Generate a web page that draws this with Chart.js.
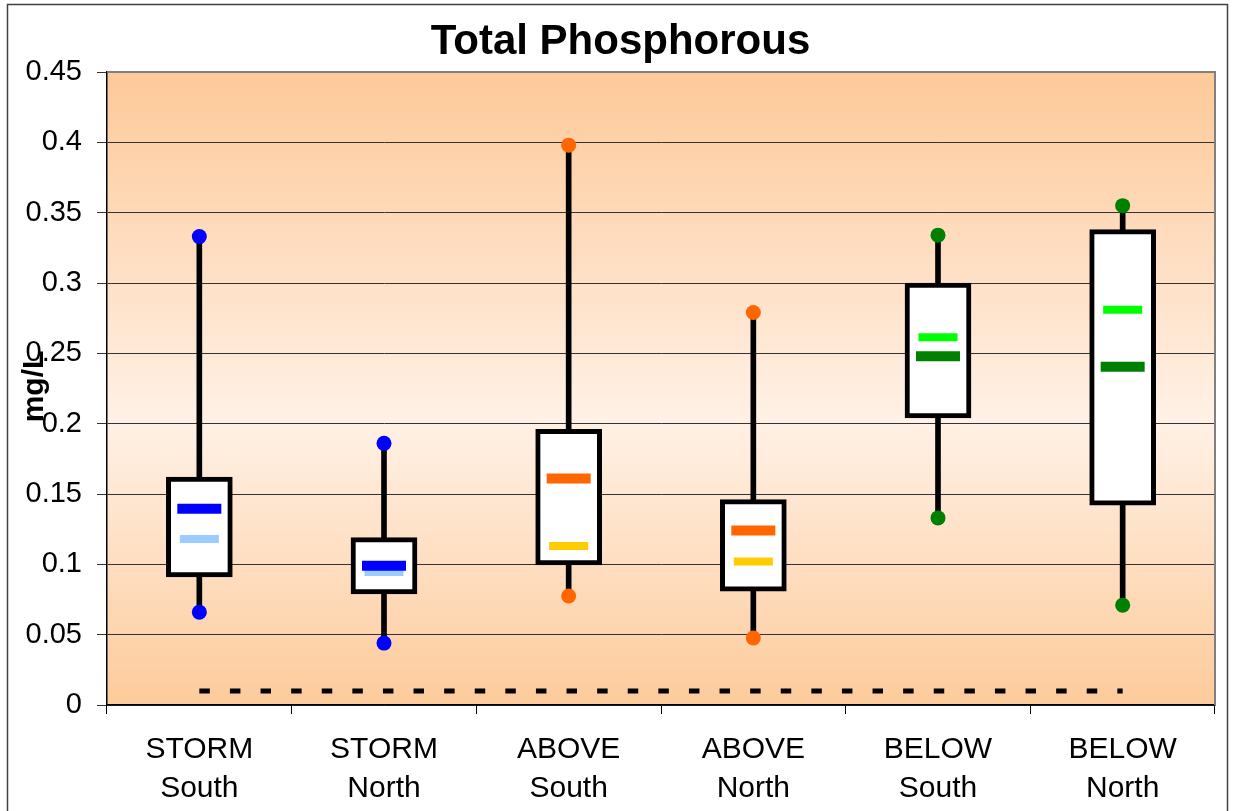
<!DOCTYPE html>
<html>
<head>
<meta charset="utf-8">
<script src="https://cdn.jsdelivr.net/npm/chart.js@4/dist/chart.umd.min.js"></script>
<style>
  html, body { margin: 0; padding: 0; background: #fff; }
  #chart { display: block; }
</style>
</head>
<body>
<canvas id="chart" width="1235" height="811"></canvas>
<script>
// values (mg/L)
const categories = [['STORM', 'South'], ['STORM', 'North'], ['ABOVE', 'South'], ['ABOVE', 'North'], ['BELOW', 'South'], ['BELOW', 'North']];
const maxVals = [0.333, 0.186, 0.398, 0.279, 0.334, 0.355];
const q3Vals = [0.162, 0.119, 0.196, 0.146, 0.300, 0.338];
const q1Vals = [0.091, 0.079, 0.0995, 0.081, 0.204, 0.142];
const minVals = [0.066, 0.044, 0.0775, 0.0476, 0.133, 0.071];
const upperMarks = [0.1395, 0.099, 0.161, 0.124, 0.248, 0.2405];
const lowerMarks = [0.118, 0.0945, 0.113, 0.102, 0.2615, 0.281];
const limitVals = [0.01, 0.01, 0.01, 0.01, 0.01, 0.01];
const yTicks = { min: 0, max: 0.45, step: 0.05 };

const dotColors = ['#0000ff', '#0000ff', '#ff6600', '#ff6600', '#008000', '#008000'];
const upperColors = ['#0000ff', '#0000ff', '#ff6600', '#ff6600', '#008000', '#008000'];
const lowerColors = ['#99ccff', '#99ccff', '#ffcc00', '#ffcc00', '#00ff00', '#00ff00'];

const FONT = '"Liberation Sans", Arial, sans-serif';

const boxes = q1Vals.map((v, i) => [v, q3Vals[i]]);
const whiskers = minVals.map((v, i) => [v, maxVals[i]]);

const decor = {
    id: 'decor',
    beforeDraw(chart) {
        const { ctx, chartArea: a, width, height } = chart;
        ctx.save();
        ctx.fillStyle = '#fff';
        ctx.fillRect(0, 0, width, height);
        const g = ctx.createLinearGradient(0, a.top, 0, a.bottom);
        g.addColorStop(0, '#fdc999');
        g.addColorStop(0.55, '#fff1e6');
        g.addColorStop(1, '#fdcb9b');
        ctx.fillStyle = g;
        ctx.fillRect(a.left, a.top, a.right - a.left, a.bottom - a.top);
        // outer frame
        ctx.strokeStyle = '#404040';
        ctx.lineWidth = 1.5;
        ctx.strokeRect(7.5, 4.5, width - 15, height + 10);
        ctx.restore();
    },
    beforeDatasetsDraw(chart) {
        const { ctx, chartArea: a } = chart;
        ctx.save();
        ctx.strokeStyle = '#808080';
        ctx.lineWidth = 2;
        ctx.beginPath();
        ctx.moveTo(a.left, a.top);
        ctx.lineTo(a.right, a.top);
        ctx.lineTo(a.right, a.bottom);
        ctx.stroke();
        ctx.restore();
    },
    afterDraw(chart) {
        const { ctx, chartArea: a, width } = chart;
        ctx.save();
        ctx.fillStyle = '#000';
        ctx.textAlign = 'center';
        ctx.textBaseline = 'middle';
        ctx.font = 'bold 42px ' + FONT;
        ctx.fillText('Total Phosphorous', width / 2 + 3, 42);
        ctx.translate(a.left - 72, (a.top + a.bottom) / 2 - 2);
        ctx.rotate(-Math.PI / 2);
        ctx.font = 'bold 30px ' + FONT;
        ctx.fillText('mg/L', 0, 0);
        ctx.restore();
    }
};

const canvas = document.getElementById('chart');
new Chart(canvas, {
    type: 'bar',
    data: {
        labels: categories,
        datasets: [
            {
                type: 'line', label: 'Max', data: maxVals, showLine: false,
                pointRadius: 7.5, pointBorderWidth: 0, pointBackgroundColor: dotColors, order: 1
            },
            {
                type: 'line', label: 'Min', data: minVals, showLine: false,
                pointRadius: 7.5, pointBorderWidth: 0, pointBackgroundColor: dotColors, order: 1
            },
            {
                type: 'line', label: 'Upper', data: upperMarks, showLine: false, pointStyle: 'line',
                pointRadius: 22, pointBorderWidth: 10, pointBorderColor: upperColors, order: 2
            },
            {
                type: 'line', label: 'Lower', data: lowerMarks, showLine: false, pointStyle: 'line',
                pointRadius: 19.5, pointBorderWidth: 8, pointBorderColor: lowerColors, order: 3
            },
            {
                label: 'Box', data: boxes, backgroundColor: '#fff', borderColor: '#000',
                borderWidth: 5, borderSkipped: false, barThickness: 66, grouped: false, order: 4
            },
            {
                label: 'Whisker', data: whiskers, backgroundColor: '#000', borderWidth: 0,
                barThickness: 5, grouped: false, order: 5
            },
            {
                type: 'line', label: 'Limit', data: limitVals, borderColor: '#000', borderWidth: 5,
                borderDash: [10.5, 20.1], pointRadius: 0, fill: false, order: 6
            }
        ]
    },
    options: {
        responsive: false,
        animation: false,
        events: [],
        layout: { autoPadding: false, padding: { left: 0, right: 20, top: 72, bottom: 0 } },
        plugins: {
            legend: { display: false },
            title: { display: false },
            tooltip: { enabled: false }
        },
        scales: {
            x: {
                offset: true,
                grid: { drawOnChartArea: false, drawTicks: true, tickLength: 9, color: '#000', offset: true },
                border: { color: '#000', width: 1.5 },
                ticks: { color: '#000', font: { family: FONT, size: 30, lineHeight: 1.3 }, padding: 16, maxRotation: 0 },
                afterFit: s => { s.height = 106; }
            },
            y: {
                min: yTicks.min,
                max: yTicks.max,
                grid: { color: '#333', lineWidth: 1, tickLength: 10 },
                border: { color: '#000', width: 1.5 },
                ticks: {
                    stepSize: yTicks.step,
                    color: '#000',
                    padding: 15,
                    font: { family: FONT, size: 29 },
                    callback: v => String(+v.toFixed(2))
                },
                afterFit: s => { s.width = 107; }
            }
        }
    },
    plugins: [decor]
});
</script>
</body>
</html>
